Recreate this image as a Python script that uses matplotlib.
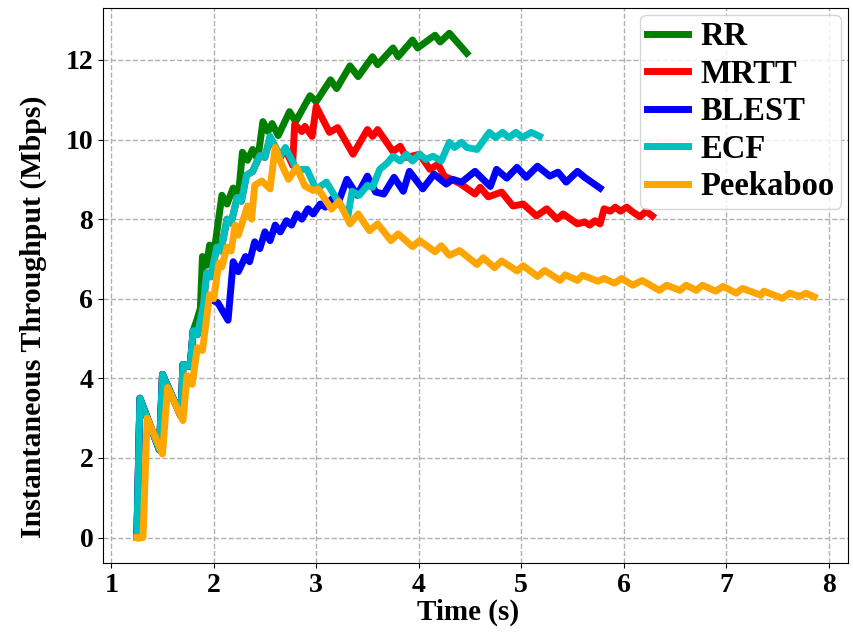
import matplotlib
matplotlib.use("Agg")
import matplotlib.pyplot as plt

plt.rcParams['font.family'] = ['Liberation Serif', 'DejaVu Serif']
plt.rcParams['font.weight'] = 'bold'

# ---- data ----
rr_x = [1.25, 1.28, 1.47, 1.50, 1.68, 1.70, 1.77, 1.80, 1.84, 1.87, 1.89, 1.93, 1.96, 2.00,
        2.08, 2.13, 2.19, 2.24, 2.28, 2.33, 2.38, 2.43, 2.48, 2.53, 2.57, 2.63, 2.74, 2.80,
        2.94, 3.00, 3.14, 3.20, 3.33, 3.41, 3.55, 3.60, 3.75, 3.80, 3.94, 3.99, 4.16, 4.21,
        4.30, 4.47]
rr_y = [0.0, 3.5, 2.2, 4.1, 3.05, 4.35, 4.3, 5.2, 5.5, 5.76, 7.06, 6.84, 7.35, 7.1,
        8.6, 8.38, 8.78, 8.55, 9.68, 9.48, 9.75, 9.5, 10.45, 10.2, 10.4, 10.1, 10.7, 10.45,
        11.1, 10.95, 11.5, 11.28, 11.85, 11.58, 12.08, 11.88, 12.3, 12.08, 12.5, 12.3, 12.62, 12.45,
        12.67, 12.17]

mrtt_x = [1.25, 1.28, 1.47, 1.50, 1.68, 1.70, 1.77, 1.80, 1.84, 1.90, 1.93, 1.97, 2.03, 2.07,
          2.13, 2.17, 2.23, 2.27, 2.32, 2.38, 2.45, 2.50, 2.55, 2.65, 2.70, 2.77, 2.79, 2.86,
          2.89, 2.96, 3.00, 3.13, 3.21, 3.36, 3.50, 3.55, 3.60, 3.75, 3.82, 3.88, 4.01, 4.11,
          4.19, 4.25, 4.32, 4.40, 4.55, 4.60, 4.68, 4.81, 4.92, 5.02, 5.15, 5.25, 5.35, 5.41,
          5.55, 5.62, 5.67, 5.72, 5.77, 5.81, 5.87, 5.92, 5.97, 6.03, 6.09, 6.16, 6.22, 6.28]
mrtt_y = [0.0, 3.5, 2.2, 4.1, 3.05, 4.35, 4.3, 5.2, 5.1, 5.85, 6.65, 6.55, 7.3, 7.2,
          8.0, 7.9, 8.55, 8.45, 9.1, 9.2, 9.6, 9.55, 10.05, 9.55, 9.75, 9.35, 10.38, 10.2,
          10.33, 10.08, 10.83, 10.18, 10.3, 9.63, 10.25, 10.08, 10.25, 9.7, 9.83, 9.55, 9.63, 9.25,
          9.38, 9.08, 9.0, 8.9, 8.63, 8.8, 8.56, 8.68, 8.33, 8.38, 8.08, 8.26, 8.0, 8.13,
          7.88, 7.93, 7.85, 7.96, 7.88, 8.26, 8.2, 8.3, 8.2, 8.3, 8.18, 8.06, 8.2, 8.08]

blest_x = [1.25, 1.28, 1.47, 1.50, 1.68, 1.70, 1.77, 1.80, 1.84, 1.90, 1.96, 2.04, 2.14, 2.19,
           2.24, 2.31, 2.35, 2.40, 2.45, 2.50, 2.55, 2.60, 2.65, 2.71, 2.76, 2.81, 2.86, 2.92,
           2.97, 3.04, 3.09, 3.15, 3.21, 3.30, 3.40, 3.50, 3.58, 3.66, 3.76, 3.85, 3.91, 4.04,
           4.15, 4.27, 4.33, 4.42, 4.55, 4.70, 4.76, 4.86, 4.96, 5.05, 5.16, 5.28, 5.36, 5.44,
           5.55, 5.62, 5.77]
blest_y = [0.0, 3.5, 2.2, 4.1, 3.05, 4.35, 4.3, 5.2, 5.1, 5.7, 6.0, 5.9, 5.46, 6.93,
           6.68, 7.06, 6.93, 7.43, 7.26, 7.68, 7.46, 7.85, 7.68, 7.96, 7.85, 8.13, 8.0, 8.26,
           8.13, 8.38, 8.3, 8.5, 8.38, 9.0, 8.6, 9.08, 8.68, 8.63, 9.05, 8.7, 9.2, 8.76,
           9.13, 8.88, 9.0, 8.93, 9.2, 8.82, 9.25, 9.03, 9.3, 9.05, 9.33, 9.08, 9.18, 8.93,
           9.2, 9.05, 8.78]

ecf_x = [1.25, 1.28, 1.47, 1.50, 1.68, 1.70, 1.77, 1.80, 1.84, 1.90, 1.93, 1.97, 2.03, 2.07,
         2.13, 2.17, 2.23, 2.27, 2.32, 2.38, 2.45, 2.50, 2.55, 2.65, 2.70, 2.81, 2.91, 3.00,
         3.10, 3.20, 3.31, 3.35, 3.42, 3.50, 3.55, 3.62, 3.69, 3.75, 3.82, 3.88, 3.94, 4.01,
         4.07, 4.14, 4.22, 4.30, 4.35, 4.42, 4.47, 4.57, 4.69, 4.75, 4.82, 4.88, 4.95, 5.01,
         5.10, 5.18]
ecf_y = [0.0, 3.5, 2.2, 4.1, 3.05, 4.35, 4.3, 5.2, 5.1, 5.85, 6.65, 6.55, 7.3, 7.2,
         8.0, 7.9, 8.55, 8.45, 9.1, 9.2, 9.6, 9.55, 10.08, 9.58, 9.8, 9.25, 9.25, 8.75,
         8.93, 8.5, 8.08, 8.7, 8.6, 8.85, 8.8, 9.25, 9.4, 9.58, 9.46, 9.63, 9.46, 9.63,
         9.5, 9.58, 9.46, 9.93, 9.8, 9.93, 9.8, 9.75, 10.18, 10.05, 10.18, 10.05, 10.18, 10.05,
         10.18, 10.08]

peek_x = [1.25, 1.31, 1.35, 1.50, 1.55, 1.70, 1.74, 1.79, 1.84, 1.89, 1.96, 2.00, 2.05, 2.08,
          2.13, 2.17, 2.21, 2.24, 2.33, 2.37, 2.40, 2.47, 2.55, 2.60, 2.67, 2.73, 2.81, 2.89,
          2.97, 3.02, 3.15, 3.22, 3.33, 3.41, 3.52, 3.60, 3.73, 3.80, 3.94, 4.01, 4.16, 4.22,
          4.30, 4.40, 4.57, 4.63, 4.74, 4.81, 4.96, 5.02, 5.16, 5.23, 5.38, 5.43, 5.55, 5.60,
          5.75, 5.81, 5.91, 5.98, 6.09, 6.18, 6.35, 6.42, 6.55, 6.61, 6.71, 6.77, 6.90, 6.97,
          7.10, 7.16, 7.34, 7.37, 7.55, 7.62, 7.72, 7.78, 7.86]
peek_y = [0.0, 0.0, 3.0, 2.1, 3.77, 2.94, 4.07, 3.85, 4.77, 4.7, 6.1, 6.0, 6.9, 6.8,
          7.3, 7.2, 7.85, 7.6, 8.33, 8.0, 8.85, 8.96, 8.76, 9.8, 9.33, 9.0, 9.3, 8.83,
          8.72, 8.76, 8.25, 8.45, 7.88, 8.13, 7.71, 7.88, 7.46, 7.63, 7.31, 7.46, 7.18, 7.33,
          7.09, 7.21, 6.86, 7.03, 6.78, 6.95, 6.7, 6.83, 6.56, 6.71, 6.46, 6.6, 6.46, 6.59,
          6.44, 6.51, 6.39, 6.51, 6.34, 6.46, 6.21, 6.34, 6.21, 6.34, 6.21, 6.34, 6.19, 6.31,
          6.14, 6.26, 6.09, 6.19, 6.01, 6.14, 6.06, 6.14, 6.05]

series = [
    ("RR", rr_x, rr_y, "g"),
    ("MRTT", mrtt_x, mrtt_y, "r"),
    ("BLEST", blest_x, blest_y, "b"),
    ("ECF", ecf_x, ecf_y, "c"),
    ("Peekaboo", peek_x, peek_y, "orange"),
]

fig = plt.figure(figsize=(8.54, 6.41), dpi=100)
ax = fig.add_axes([0.1206, 0.122, 0.8724, 0.8655])

for name, xs, ys, col in series:
    ax.plot(xs, ys, color=col, linewidth=5, label=name)

ax.grid(True, linestyle='--', color='#b0b0b0', linewidth=1)
ax.set_axisbelow(True)
ax.set_xticks([1, 2, 3, 4, 5, 6, 7, 8])
ax.set_yticks([0, 2, 4, 6, 8, 10, 12])
ax.tick_params(axis='both', labelsize=20)
for lab in ax.get_xticklabels() + ax.get_yticklabels():
    lab.set_fontweight('bold')
ax.set_xlabel("Time (s)", fontsize=21, fontweight='bold')
ax.set_ylabel("Instantaneous Throughput (Mbps)", fontsize=21.5, fontweight='bold')
ax.xaxis.set_label_coords(0.49, -0.064)
ax.yaxis.set_label_coords(-0.075, 0.443)

leg = ax.legend(loc='upper right', prop={'size': 23.5, 'weight': 'bold'},
                handlelength=1.26, handletextpad=0.4, borderpad=0.2,
                labelspacing=0.2, borderaxespad=0.2)

fig.savefig("out.png", dpi=100)
